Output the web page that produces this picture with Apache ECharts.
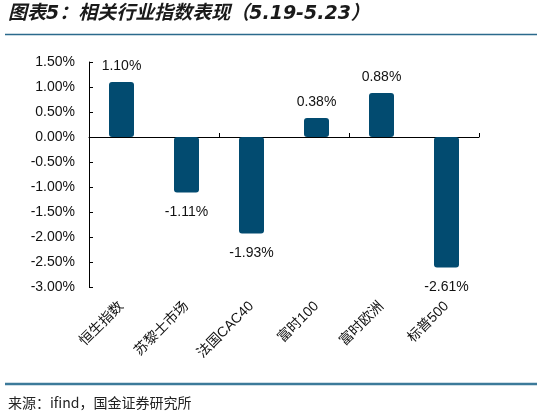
<!DOCTYPE html>
<html><head><meta charset="utf-8">
<script src="https://cdn.jsdelivr.net/npm/echarts@6/dist/echarts.min.js"></script>
<style>html,body{margin:0;padding:0;background:#fff;}#c{width:543px;height:416px;}</style>
</head><body><div id="c"></div>
<script>
var categories = ['恒生指数','苏黎士市场','法国CAC40','富时100','富时欧洲','标普500'];
var values = [1.10, -1.11, -1.93, 0.38, 0.88, -2.61];
var titleText = '图表5：相关行业指数表现（5.19-5.23）';
var sourceText = '来源：ifind，国金证券研究所';
var FONT = '"Liberation Sans", Arial, "Noto Sans CJK SC", sans-serif';
var chart = echarts.init(document.getElementById('c'));
chart.setOption({
  animation: false,
  grid: {left: 89, right: 64, top: 62, bottom: 129},
  xAxis: [{
    type: 'category', data: categories,
    axisLine: {onZero: true, lineStyle: {color: '#000', width: 1}},
    axisTick: {show: true, inside: true, length: 4, lineStyle: {color: '#000'}},
    axisLabel: {show: false}
  },{
    type: 'category', data: categories, position: 'bottom',
    axisLine: {show: false}, axisTick: {show: false},
    axisLabel: {rotate: 45, interval: 0, margin: 17, fontSize: 14, color: '#111', fontFamily: FONT}
  }],
  yAxis: {
    type: 'value', min: -3, max: 1.5, interval: 0.5,
    axisLine: {show: true, lineStyle: {color: '#000', width: 1}},
    axisTick: {show: true, inside: true, length: 4, lineStyle: {color: '#000'}},
    splitLine: {show: false},
    axisLabel: {margin: 14, fontSize: 14, color: '#111', fontFamily: FONT,
      formatter: function(v){ return v.toFixed(2) + '%'; }}
  },
  series: [{
    type: 'bar', xAxisIndex: 0, data: values.map(function(v){
      return {value: v, label: {position: v >= 0 ? 'top' : 'bottom', distance: v >= 0 ? 9 : 13}};
    }),
    barWidth: 25,
    itemStyle: {color: '#024b70', borderRadius: 3},
    label: {show: true, fontSize: 14, color: '#111', fontFamily: FONT,
      formatter: function(p){ return p.value.toFixed(2) + '%'; }}
  }],
  graphic: [
    {type: 'text', left: 8, top: 5, style: {text: titleText, fontSize: 19, fontWeight: 'bold', fontStyle: 'italic', fill: '#1a1a1a', fontFamily: '"DejaVu Sans", "Noto Sans CJK SC", sans-serif'}},
    {type: 'line', shape: {x1: 5, y1: 34.5, x2: 537, y2: 34.5}, style: {stroke: '#2b6a8c', lineWidth: 1.5}},
    {type: 'line', shape: {x1: 5, y1: 384, x2: 537, y2: 384}, style: {stroke: '#3c7a9a', lineWidth: 2.5}},
    {type: 'text', left: 8, top: 396, style: {text: sourceText, fontSize: 14, fill: '#222', fontFamily: '"Noto Sans CJK SC", sans-serif'}}
  ]
});
</script></body></html>
